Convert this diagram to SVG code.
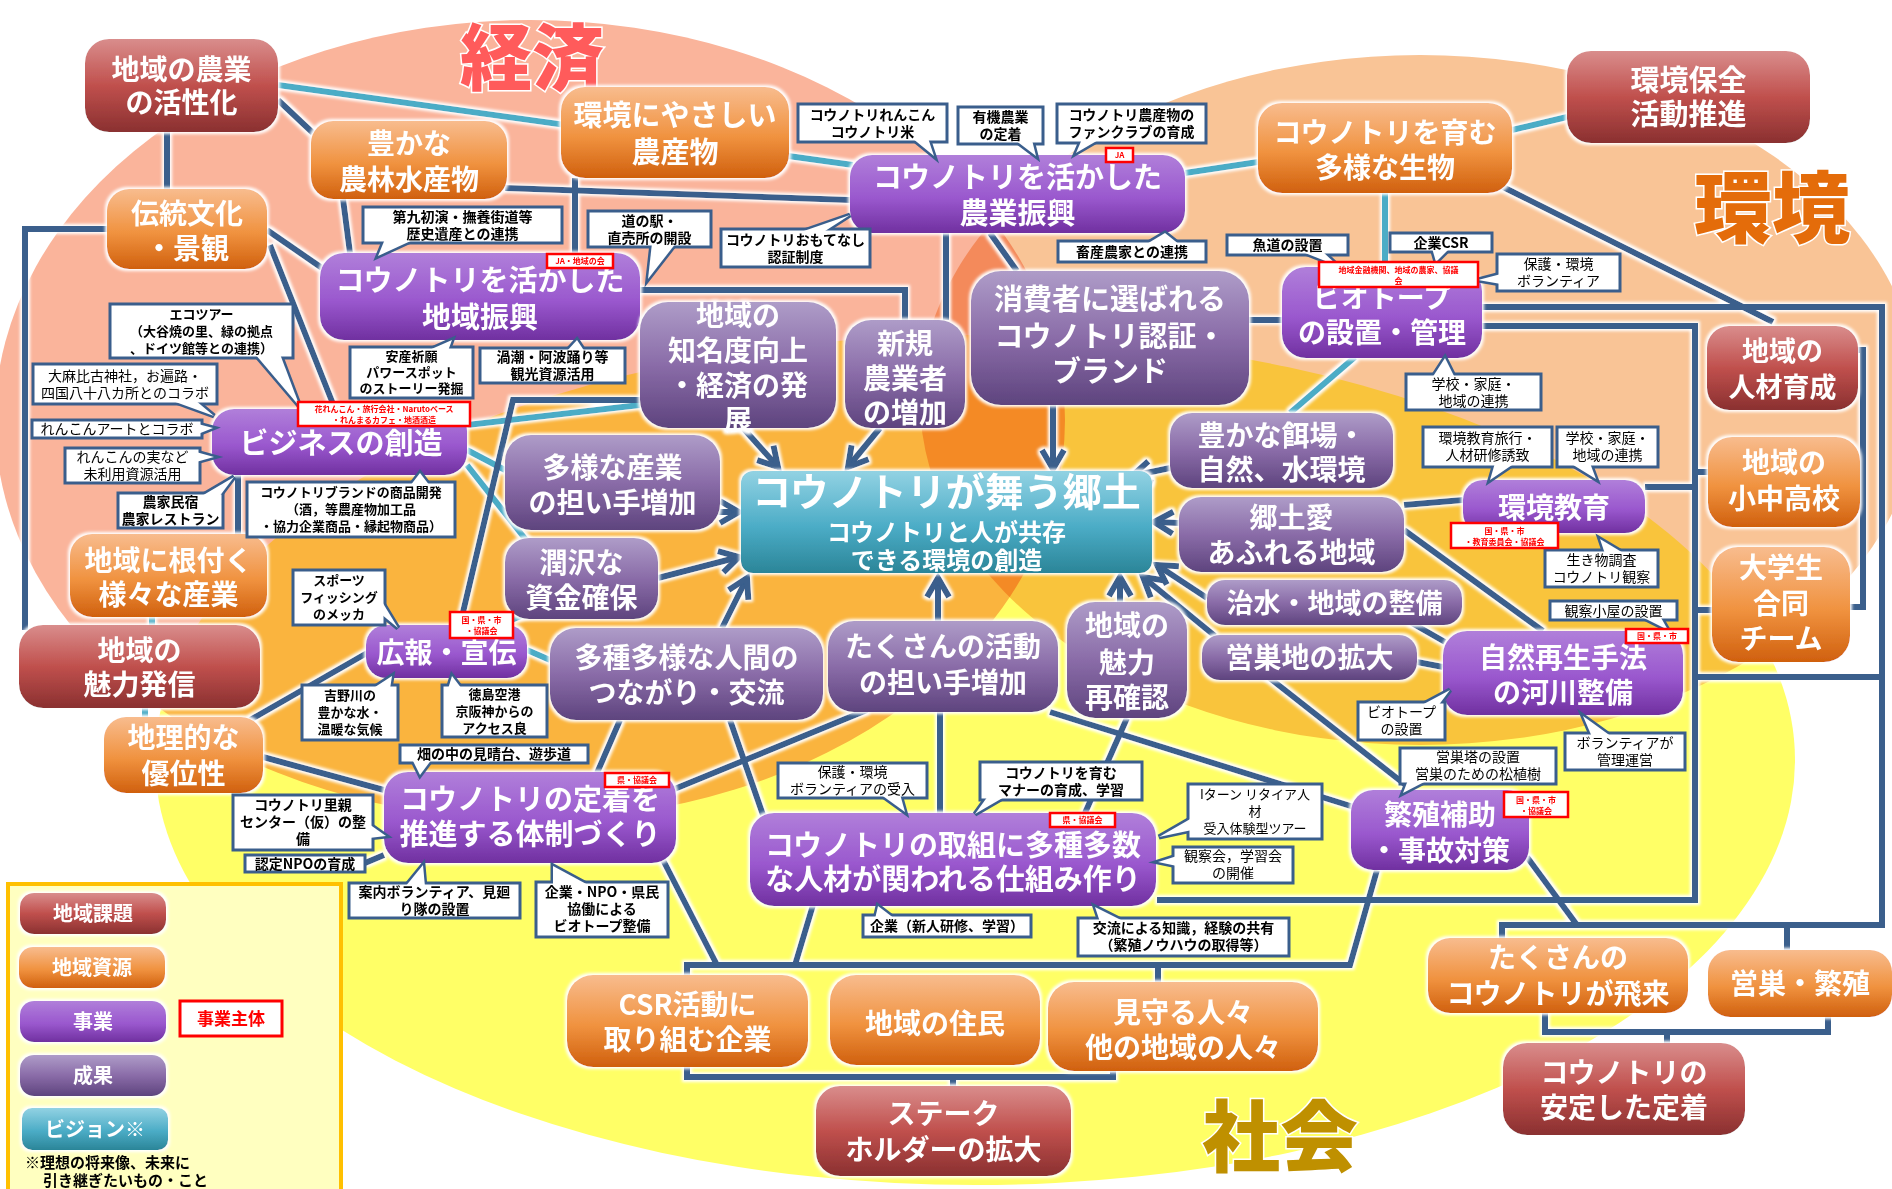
<svg xmlns="http://www.w3.org/2000/svg" width="1892" height="1189" viewBox="0 0 1892 1189">
<defs>
<linearGradient id="gM" x1="0" y1="0" x2="0" y2="1"><stop offset="0" stop-color="#D98D8C"/><stop offset="0.5" stop-color="#C0504D"/><stop offset="1" stop-color="#8A3030"/></linearGradient>
<linearGradient id="gO" x1="0" y1="0" x2="0" y2="1"><stop offset="0" stop-color="#F8BC8E"/><stop offset="0.55" stop-color="#F0923F"/><stop offset="1" stop-color="#D0600E"/></linearGradient>
<linearGradient id="gP" x1="0" y1="0" x2="0" y2="1"><stop offset="0" stop-color="#B07FDA"/><stop offset="0.55" stop-color="#9A58CE"/><stop offset="1" stop-color="#7030A0"/></linearGradient>
<linearGradient id="gR" x1="0" y1="0" x2="0" y2="1"><stop offset="0" stop-color="#AE9CC8"/><stop offset="0.5" stop-color="#8A6CA8"/><stop offset="1" stop-color="#5E447E"/></linearGradient>
<linearGradient id="gV" x1="0" y1="0" x2="0" y2="1"><stop offset="0" stop-color="#92D2E3"/><stop offset="0.55" stop-color="#4BACC6"/><stop offset="1" stop-color="#2B8598"/></linearGradient>
<filter id="glow" x="-20%" y="-20%" width="140%" height="140%">
<feMorphology in="SourceAlpha" operator="dilate" radius="2" result="d"/>
<feGaussianBlur in="d" stdDeviation="1.5" result="b"/>
<feFlood flood-color="#ffffff"/>
<feComposite in2="b" operator="in" result="w"/>
<feMerge><feMergeNode in="w"/><feMergeNode in="SourceGraphic"/></feMerge>
</filter>
<marker id="arr" markerUnits="userSpaceOnUse" markerWidth="30" markerHeight="30" viewBox="0 0 30 30" refX="24" refY="15" orient="auto">
<path d="M5,4 L24,15 L5,26" fill="none" stroke="#3A5E8C" stroke-width="6"/>
</marker>
<style>
.ln{fill:none;stroke:#3A5E8C;stroke-width:6}
.tl{fill:none;stroke:#4BACC6;stroke-width:6}
.ar{marker-end:url(#arr)}
.node{filter:url(#glow)}
.nt{font-family:"Noto Sans CJK JP","Noto Sans",sans-serif;font-weight:700;fill:#ffffff;text-anchor:middle}
.tb{fill:#ffffff;stroke:#3A5E8C;stroke-width:5;stroke-linejoin:miter}
.cb{fill:#ffffff;stroke:#3A5E8C;stroke-width:3}
.cf{fill:#ffffff;stroke:none}
.ct{font-family:"Noto Sans CJK JP","Noto Sans",sans-serif;font-weight:700;font-size:14px;fill:#000000;text-anchor:middle}
.cr{font-weight:400}
.s13{font-size:13px}
.rb{fill:#ffffff;stroke:#FF0000;stroke-width:2.5}
.rt{font-family:"Noto Sans CJK JP","Noto Sans",sans-serif;font-weight:700;font-size:8px;fill:#FF0000;text-anchor:middle}
.ttl{font-family:"Noto Sans CJK JP","Noto Sans",sans-serif;font-weight:900;text-anchor:middle;stroke:#ffffff;stroke-width:3;paint-order:stroke}
</style>
</defs>
<rect x="0" y="0" width="1892" height="1189" fill="#ffffff"/>
<g id="background">
<ellipse cx="530" cy="420" rx="535" ry="400" fill="#FAB49B" style="mix-blend-mode:multiply"/>
<ellipse cx="1420" cy="400" rx="500" ry="345" fill="#F9C496" style="mix-blend-mode:multiply"/>
<ellipse cx="975" cy="760" rx="820" ry="425" fill="#FFFF66" style="mix-blend-mode:multiply"/>
</g>
<g id="titles">
<text class="ttl" x="532" y="84" font-size="72" fill="#FF5B5B">経済</text>
<text class="ttl" x="1772" y="237" font-size="78" fill="#E46C0A">環境</text>
<text class="ttl" x="1280" y="1166" font-size="78" fill="#BF9000">社会</text>
</g>
<g id="connectors" filter="url(#glow)">
<path class="tl" d="M278,85 L853,165"/>
<path class="tl" d="M1185,173 L1258,162"/>
<path class="tl" d="M1512,130 L1567,117"/>
<path class="tl" d="M1385,193 L1385,267"/>
<path class="tl" d="M1355,357 L1290,413"/>
<path class="tl" d="M467,425 L640,405"/>
<path class="tl" d="M467,450 L505,470"/>
<path class="tl" d="M467,465 L530,545"/>
<path class="tl" d="M527,650 L550,660"/>
<path class="tl" d="M500,625 L530,612"/>
<path class="tl" d="M152,617 L152,625"/>
<path class="tl" d="M145,708 L145,717"/>
<path class="ln" d="M167,132 L167,189"/>
<path class="ln" d="M278,100 L313,133"/>
<path class="ln" d="M343,199 L350,253"/>
<path class="ln" d="M505,188 L850,200"/>
<path class="ln" d="M575,178 L575,253"/>
<path class="ln" d="M267,230 L322,268"/>
<path class="ln" d="M270,245 L335,409"/>
<path class="ln" d="M107,229 L25,229 L25,630"/>
<path class="ln" d="M640,290 L905,290 L905,320"/>
<path class="ln" d="M946,233 L946,320"/>
<path class="ln" d="M990,233 L1017,271"/>
<path class="ln" d="M1248,320 L1282,320"/>
<path class="ln ar" d="M1053,405 L1053,469"/>
<path class="ln ar" d="M743,428 L778,467"/>
<path class="ln ar" d="M880,428 L848,467"/>
<path class="ln ar" d="M712,512 L739,512"/>
<path class="ln ar" d="M658,578 L739,557"/>
<path class="ln ar" d="M722,628 L747,578"/>
<path class="ln ar" d="M938,621 L938,578"/>
<path class="ln ar" d="M1120,602 L1120,577"/>
<path class="ln ar" d="M1207,598 L1157,565"/>
<path class="ln ar" d="M1215,636 L1143,577"/>
<path class="ln ar" d="M1179,523 L1154,522"/>
<path class="ln ar" d="M1170,468 L1132,476"/>
<path class="ln" d="M1503,187 L1773,322"/>
<path class="ln" d="M1482,307 L1882,307 L1882,925 L1502,925 L1502,938"/>
<path class="ln" d="M1787,925 L1787,950"/>
<path class="ln" d="M1482,326 L1695,326 L1695,900 L1157,900"/>
<path class="ln" d="M1645,487 L1695,487"/>
<path class="ln" d="M1695,472 L1708,472"/>
<path class="ln" d="M1695,610 L1712,610"/>
<path class="ln" d="M1695,677 L1882,677"/>
<path class="ln" d="M1858,350 L1863,350 L1863,607 L1850,607"/>
<path class="ln" d="M1527,857 L1577,925"/>
<path class="ln" d="M1545,1013 L1545,1032 L1828,1032 L1828,1017"/>
<path class="ln" d="M1667,1032 L1667,1043"/>
<path class="ln" d="M1267,676 L1412,790"/>
<path class="ln" d="M1404,530 L1543,631"/>
<path class="ln" d="M1404,505 L1463,500"/>
<path class="ln" d="M1410,622 L1445,642"/>
<path class="ln" d="M1417,662 L1443,667"/>
<path class="ln" d="M1050,712 L1357,808"/>
<path class="ln" d="M730,720 L763,815"/>
<path class="ln" d="M620,720 L597,773"/>
<path class="ln" d="M940,712 L940,813"/>
<path class="ln" d="M867,710 L672,790"/>
<path class="ln" d="M1127,718 L1085,813"/>
<path class="ln" d="M1377,870 L1350,965 L687,965 L687,1077 L1113,1077 L1113,1071"/>
<path class="ln" d="M1158,965 L1158,982"/>
<path class="ln" d="M953,1077 L953,1086"/>
<path class="ln" d="M663,860 L717,965"/>
<path class="ln" d="M813,905 L795,965"/>
<path class="ln" d="M250,720 L367,653"/>
<path class="ln" d="M263,757 L384,790"/>
<path class="ln" d="M460,625 L513,400 L640,400"/>
<path class="ln" d="M238,475 L238,534"/>
<path class="ln" d="M365,863 L384,855"/>
</g>
<g id="nodes">
<g id="n-nogyo-kasseika" class="node"><rect x="85" y="39" width="193" height="93" rx="24" fill="url(#gM)"/><text class="nt" font-size="28"><tspan x="181.5" y="80">地域の農業</tspan><tspan x="181.5" y="113">の活性化</tspan></text></g>
<g id="n-kankyo-hozen" class="node"><rect x="1567" y="51" width="243" height="92" rx="24" fill="url(#gM)"/><text class="nt" font-size="29"><tspan x="1688.5" y="91">環境保全</tspan><tspan x="1688.5" y="125">活動推進</tspan></text></g>
<g id="n-jinzai" class="node"><rect x="1707" y="326" width="151" height="84" rx="22" fill="url(#gM)"/><text class="nt" font-size="27"><tspan x="1782.5" y="361">地域の</tspan><tspan x="1782.5" y="397">人材育成</tspan></text></g>
<g id="n-miryoku-hasshin" class="node"><rect x="19" y="625" width="241" height="83" rx="24" fill="url(#gM)"/><text class="nt" font-size="28"><tspan x="139.5" y="661">地域の</tspan><tspan x="139.5" y="695">魅力発信</tspan></text></g>
<g id="n-stakeholder" class="node"><rect x="816" y="1086" width="255" height="90" rx="24" fill="url(#gM)"/><text class="nt" font-size="28"><tspan x="943.5" y="1124">ステーク</tspan><tspan x="943.5" y="1160">ホルダーの拡大</tspan></text></g>
<g id="n-antei" class="node"><rect x="1503" y="1043" width="242" height="92" rx="24" fill="url(#gM)"/><text class="nt" font-size="28"><tspan x="1624" y="1083">コウノトリの</tspan><tspan x="1624" y="1118">安定した定着</tspan></text></g>

<g id="n-yutaka" class="node"><rect x="311" y="121" width="196" height="78" rx="22" fill="url(#gO)"/><text class="nt" font-size="28"><tspan x="409" y="154">豊かな</tspan><tspan x="409" y="190">農林水産物</tspan></text></g>
<g id="n-dento" class="node"><rect x="107" y="189" width="160" height="80" rx="22" fill="url(#gO)"/><text class="nt" font-size="28"><tspan x="187" y="224">伝統文化</tspan><tspan x="187" y="259">・景観</tspan></text></g>
<g id="n-yasashii" class="node"><rect x="561" y="87" width="228" height="91" rx="24" fill="url(#gO)"/><text class="nt" font-size="29"><tspan x="675" y="126">環境にやさしい</tspan><tspan x="675" y="163">農産物</tspan></text></g>
<g id="n-seibutsu" class="node"><rect x="1258" y="103" width="254" height="90" rx="24" fill="url(#gO)"/><text class="nt" font-size="28"><tspan x="1385" y="143">コウノトリを育む</tspan><tspan x="1385" y="178">多様な生物</tspan></text></g>
<g id="n-nezuku" class="node"><rect x="70" y="534" width="197" height="83" rx="22" fill="url(#gO)"/><text class="nt" font-size="28"><tspan x="168.5" y="571">地域に根付く</tspan><tspan x="168.5" y="605">様々な産業</tspan></text></g>
<g id="n-chiri" class="node"><rect x="104" y="717" width="159" height="76" rx="22" fill="url(#gO)"/><text class="nt" font-size="28"><tspan x="183.5" y="748">地理的な</tspan><tspan x="183.5" y="784">優位性</tspan></text></g>
<g id="n-shochuko" class="node"><rect x="1708" y="437" width="152" height="90" rx="24" fill="url(#gO)"/><text class="nt" font-size="28"><tspan x="1784" y="473">地域の</tspan><tspan x="1784" y="509">小中高校</tspan></text></g>
<g id="n-daigakusei" class="node"><rect x="1712" y="547" width="138" height="115" rx="26" fill="url(#gO)"/><text class="nt" font-size="28"><tspan x="1781" y="578">大学生</tspan><tspan x="1781" y="614">合同</tspan><tspan x="1781" y="649">チーム</tspan></text></g>
<g id="n-csr" class="node"><rect x="567" y="975" width="241" height="92" rx="26" fill="url(#gO)"/><text class="nt" font-size="28"><tspan x="687.5" y="1015">CSR活動に</tspan><tspan x="687.5" y="1050">取り組む企業</tspan></text></g>
<g id="n-jumin" class="node"><rect x="830" y="975" width="210" height="90" rx="26" fill="url(#gO)"/><text class="nt" font-size="28"><tspan x="935" y="1034">地域の住民</tspan></text></g>
<g id="n-mimamoru" class="node"><rect x="1048" y="982" width="270" height="89" rx="26" fill="url(#gO)"/><text class="nt" font-size="28"><tspan x="1183" y="1023">見守る人々</tspan><tspan x="1183" y="1058">他の地域の人々</tspan></text></g>
<g id="n-hirai" class="node"><rect x="1428" y="938" width="260" height="75" rx="22" fill="url(#gO)"/><text class="nt" font-size="28"><tspan x="1558" y="968">たくさんの</tspan><tspan x="1558" y="1004">コウノトリが飛来</tspan></text></g>
<g id="n-eiso-hanshoku" class="node"><rect x="1708" y="950" width="184" height="67" rx="22" fill="url(#gO)"/><text class="nt" font-size="28"><tspan x="1800" y="994">営巣・繁殖</tspan></text></g>

<g id="n-chiiki-shinko" class="node"><rect x="320" y="253" width="320" height="87" rx="24" fill="url(#gP)"/><text class="nt" font-size="29"><tspan x="480" y="291">コウノトリを活かした</tspan><tspan x="480" y="328">地域振興</tspan></text></g>
<g id="n-nogyo-shinko" class="node"><rect x="850" y="155" width="335" height="78" rx="22" fill="url(#gP)"/><text class="nt" font-size="29"><tspan x="1017.5" y="188">コウノトリを活かした</tspan><tspan x="1017.5" y="224">農業振興</tspan></text></g>
<g id="n-biotope" class="node"><rect x="1282" y="267" width="200" height="91" rx="24" fill="url(#gP)"/><text class="nt" font-size="28"><tspan x="1382" y="308">ビオトープ</tspan><tspan x="1382" y="343">の設置・管理</tspan></text></g>
<g id="n-business" class="node"><rect x="212" y="409" width="255" height="66" rx="22" fill="url(#gP)"/><text class="nt" font-size="29"><tspan x="341" y="454">ビジネスの創造</tspan></text></g>
<g id="n-kankyo-kyoiku" class="node"><rect x="1463" y="480" width="182" height="53" rx="20" fill="url(#gP)"/><text class="nt" font-size="28"><tspan x="1554" y="518">環境教育</tspan></text></g>
<g id="n-shizen-saisei" class="node"><rect x="1443" y="631" width="240" height="84" rx="24" fill="url(#gP)"/><text class="nt" font-size="28"><tspan x="1563" y="668">自然再生手法</tspan><tspan x="1563" y="703">の河川整備</tspan></text></g>
<g id="n-koho" class="node"><rect x="366" y="625" width="161" height="53" rx="20" fill="url(#gP)"/><text class="nt" font-size="28"><tspan x="446.5" y="663">広報・宣伝</tspan></text></g>
<g id="n-taisei" class="node"><rect x="384" y="772" width="292" height="91" rx="24" fill="url(#gP)"/><text class="nt" font-size="29"><tspan x="530" y="810">コウノトリの定着を</tspan><tspan x="530" y="845">推進する体制づくり</tspan></text></g>
<g id="n-shikumi" class="node"><rect x="750" y="813" width="406" height="93" rx="24" fill="url(#gP)"/><text class="nt" font-size="29"><tspan x="953" y="856">コウノトリの取組に多種多数</tspan><tspan x="953" y="890">な人材が関われる仕組み作り</tspan></text></g>
<g id="n-hanshoku-hojo" class="node"><rect x="1351" y="790" width="178" height="80" rx="22" fill="url(#gP)"/><text class="nt" font-size="28"><tspan x="1440" y="825">繁殖補助</tspan><tspan x="1440" y="861">・事故対策</tspan></text></g>

<g id="n-chimeido" class="node"><rect x="640" y="302" width="196" height="126" rx="28" fill="url(#gR)"/><text class="nt" font-size="28"><tspan x="738" y="326">地域の</tspan><tspan x="738" y="361">知名度向上</tspan><tspan x="738" y="396">・経済の発</tspan><tspan x="738" y="430">展</tspan></text></g>
<g id="n-shinki" class="node"><rect x="845" y="320" width="120" height="108" rx="26" fill="url(#gR)"/><text class="nt" font-size="28"><tspan x="905" y="354">新規</tspan><tspan x="905" y="389">農業者</tspan><tspan x="905" y="423">の増加</tspan></text></g>
<g id="n-shohisha" class="node"><rect x="971" y="271" width="278" height="134" rx="30" fill="url(#gR)"/><text class="nt" font-size="29"><tspan x="1110" y="310">消費者に選ばれる</tspan><tspan x="1110" y="347">コウノトリ認証・</tspan><tspan x="1110" y="382">ブランド</tspan></text></g>
<g id="n-tayo-sangyo" class="node"><rect x="505" y="435" width="215" height="95" rx="26" fill="url(#gR)"/><text class="nt" font-size="28"><tspan x="612.5" y="478">多様な産業</tspan><tspan x="612.5" y="513">の担い手増加</tspan></text></g>
<g id="n-juntaku" class="node"><rect x="505" y="538" width="153" height="81" rx="24" fill="url(#gR)"/><text class="nt" font-size="28"><tspan x="581.5" y="573">潤沢な</tspan><tspan x="581.5" y="608">資金確保</tspan></text></g>
<g id="n-tsunagari" class="node"><rect x="550" y="628" width="273" height="92" rx="26" fill="url(#gR)"/><text class="nt" font-size="28"><tspan x="686.5" y="668">多種多様な人間の</tspan><tspan x="686.5" y="703">つながり・交流</tspan></text></g>
<g id="n-katsudo" class="node"><rect x="828" y="621" width="230" height="91" rx="26" fill="url(#gR)"/><text class="nt" font-size="28"><tspan x="943" y="657">たくさんの活動</tspan><tspan x="943" y="693">の担い手増加</tspan></text></g>
<g id="n-saikakunin" class="node"><rect x="1067" y="602" width="120" height="116" rx="28" fill="url(#gR)"/><text class="nt" font-size="28"><tspan x="1127" y="636">地域の</tspan><tspan x="1127" y="673">魅力</tspan><tspan x="1127" y="708">再確認</tspan></text></g>
<g id="n-esaba" class="node"><rect x="1170" y="413" width="223" height="75" rx="22" fill="url(#gR)"/><text class="nt" font-size="28"><tspan x="1281.5" y="446">豊かな餌場・</tspan><tspan x="1281.5" y="480">自然、水環境</tspan></text></g>
<g id="n-kyodoai" class="node"><rect x="1179" y="497" width="225" height="75" rx="22" fill="url(#gR)"/><text class="nt" font-size="28"><tspan x="1291.5" y="528">郷土愛</tspan><tspan x="1291.5" y="563">あふれる地域</tspan></text></g>
<g id="n-chisui" class="node"><rect x="1207" y="580" width="255" height="45" rx="18" fill="url(#gR)"/><text class="nt" font-size="27"><tspan x="1334.5" y="613">治水・地域の整備</tspan></text></g>
<g id="n-eisochi" class="node"><rect x="1202" y="635" width="215" height="45" rx="18" fill="url(#gR)"/><text class="nt" font-size="28"><tspan x="1309.5" y="668">営巣地の拡大</tspan></text></g>

<g id="n-vision" class="node"><rect x="741" y="471" width="411" height="102" rx="12" fill="url(#gV)"/><text class="nt" font-size="39" font-weight="400"><tspan x="946.5" y="506">コウノトリが舞う郷土</tspan></text><text class="nt" font-size="24" font-weight="400"><tspan x="946.5" y="541">コウノトリと人が共存</tspan><tspan x="946.5" y="569">できる環境の創造</tspan></text></g>
</g>
<g id="callouts">
<g id="c-renkon"><polygon class="tb" points="912,138 934,156 928,138"/><rect class="cb" x="798" y="104" width="149" height="38"/><polygon class="cf" points="912,138 934,156 928,138"/><text class="ct"><tspan x="872.5" y="120">コウノトリれんこん</tspan><tspan x="872.5" y="137">コウノトリ米</tspan></text></g>
<g id="c-yuki"><polygon class="tb" points="1015,140 1036,156 1032,140"/><rect class="cb" x="958" y="107" width="85" height="37"/><polygon class="cf" points="1015,140 1036,156 1032,140"/><text class="ct"><tspan x="1000.5" y="122">有機農業</tspan><tspan x="1000.5" y="139">の定着</tspan></text></g>
<g id="c-fanclub"><polygon class="tb" points="1082,139 1076,153 1100,139"/><rect class="cb" x="1057" y="104" width="149" height="39"/><polygon class="cf" points="1082,139 1076,153 1100,139"/><text class="ct"><tspan x="1131.5" y="120">コウノトリ農産物の</tspan><tspan x="1131.5" y="137">ファンクラブの育成</tspan></text></g>
<g id="c-michinoeki"><polygon class="tb" points="652,243 648,279 676,243"/><rect class="cb" x="588" y="211" width="123" height="36"/><polygon class="cf" points="652,243 648,279 676,243"/><text class="ct"><tspan x="649.5" y="226">道の駅・</tspan><tspan x="649.5" y="243">直売所の開設</tspan></text></g>
<g id="c-omotenashi"><polygon class="tb" points="798,233 850,215 822,233"/><rect class="cb" x="721" y="229" width="149" height="38"/><polygon class="cf" points="798,233 850,215 822,233"/><text class="ct"><tspan x="795.5" y="245">コウノトリおもてなし</tspan><tspan x="795.5" y="262">認証制度</tspan></text></g>
<g id="c-daiku"><polygon class="tb" points="385,239 378,256 415,239"/><rect class="cb" x="363" y="207" width="199" height="36"/><polygon class="cf" points="385,239 378,256 415,239"/><text class="ct"><tspan x="462.5" y="222">第九初演・撫養街道等</tspan><tspan x="462.5" y="239">歴史遺産との連携</tspan></text></g>
<g id="c-chikusan"><polygon class="tb" points="1145,245 1165,233 1180,245"/><rect class="cb" x="1058" y="241" width="148" height="21"/><polygon class="cf" points="1145,245 1165,233 1180,245"/><text class="ct"><tspan x="1132" y="257">畜産農家との連携</tspan></text></g>
<g id="c-gyodo"><polygon class="tb" points="1300,251 1338,266 1322,251"/><rect class="cb" x="1227" y="235" width="121" height="20"/><polygon class="cf" points="1300,251 1338,266 1322,251"/><text class="ct"><tspan x="1287.5" y="250">魚道の設置</tspan></text></g>
<g id="c-csr"><polygon class="tb" points="1432,248 1436,262 1450,248"/><rect class="cb" x="1390" y="233" width="102" height="19"/><polygon class="cf" points="1432,248 1436,262 1450,248"/><text class="ct"><tspan x="1441" y="248">企業CSR</tspan></text></g>
<g id="c-hogo1"><polygon class="tb" points="1501,274 1478,280 1501,284"/><rect class="cb" x="1497" y="254" width="123" height="37"/><polygon class="cf" points="1501,274 1478,280 1501,284"/><text class="ct cr"><tspan x="1558.5" y="269">保護・環境</tspan><tspan x="1558.5" y="286">ボランティア</tspan></text></g>
<g id="c-gakko1"><polygon class="tb" points="1432,378 1445,358 1455,378"/><rect class="cb" x="1406" y="374" width="135" height="36"/><polygon class="cf" points="1432,378 1445,358 1455,378"/><text class="ct cr"><tspan x="1473.5" y="389">学校・家庭・</tspan><tspan x="1473.5" y="406">地域の連携</tspan></text></g>
<g id="c-ecotour"><polygon class="tb" points="255,354 300,407 280,354"/><rect class="cb" x="110" y="304" width="183" height="54"/><polygon class="cf" points="255,354 300,407 280,354"/><text class="ct s13"><tspan x="201.5" y="319">エコツアー</tspan><tspan x="201.5" y="336">（大谷焼の里、緑の拠点</tspan><tspan x="201.5" y="353">、ドイツ館等との連携）</tspan></text></g>
<g id="c-oasahiko"><polygon class="tb" points="170,400 214,416 195,400"/><rect class="cb" x="33" y="364" width="184" height="40"/><polygon class="cf" points="170,400 214,416 195,400"/><text class="ct cr"><tspan x="125" y="381">大麻比古神社，お遍路・</tspan><tspan x="125" y="398">四国八十八カ所とのコラボ</tspan></text></g>
<g id="c-anzan"><polygon class="tb" points="427,351 452,340 448,351"/><rect class="cb" x="350" y="347" width="123" height="51"/><polygon class="cf" points="427,351 452,340 448,351"/><text class="ct s13"><tspan x="411.5" y="361">安産祈願</tspan><tspan x="411.5" y="377">パワースポット</tspan><tspan x="411.5" y="393">のストーリー発掘</tspan></text></g>
<g id="c-uzushio"><polygon class="tb" points="566,352 577,340 585,352"/><rect class="cb" x="480" y="348" width="145" height="35"/><polygon class="cf" points="566,352 577,340 585,352"/><text class="ct"><tspan x="552.5" y="362">渦潮・阿波踊り等</tspan><tspan x="552.5" y="379">観光資源活用</tspan></text></g>
<g id="c-renkonart"><polygon class="tb" points="198,424 213,428 198,434"/><rect class="cb" x="32" y="420" width="170" height="18"/><polygon class="cf" points="198,424 213,428 198,434"/><text class="ct cr"><tspan x="117" y="434">れんこんアートとコラボ</tspan></text></g>
<g id="c-renkonmi"><polygon class="tb" points="196,452 214,457 196,462"/><rect class="cb" x="65" y="448" width="135" height="35"/><polygon class="cf" points="196,452 214,457 196,462"/><text class="ct cr"><tspan x="132.5" y="462">れんこんの実など</tspan><tspan x="132.5" y="479">未利用資源活用</tspan></text></g>
<g id="c-minshuku"><polygon class="tb" points="200,497 234,477 219,497"/><rect class="cb" x="118" y="493" width="105" height="35"/><polygon class="cf" points="200,497 234,477 219,497"/><text class="ct"><tspan x="170.5" y="507">農家民宿</tspan><tspan x="170.5" y="524">農家レストラン</tspan></text></g>
<g id="c-brand"><polygon class="tb" points="410,486 420,473 430,486"/><rect class="cb" x="247" y="482" width="208" height="55"/><polygon class="cf" points="410,486 420,473 430,486"/><text class="ct s13"><tspan x="351" y="497">コウノトリブランドの商品開発</tspan><tspan x="351" y="514">（酒，等農産物加工品</tspan><tspan x="351" y="531">・協力企業商品・縁起物商品）</tspan></text></g>
<g id="c-sports"><polygon class="tb" points="381,600 398,628 381,614"/><rect class="cb" x="293" y="570" width="92" height="55"/><polygon class="cf" points="381,600 398,628 381,614"/><text class="ct s13"><tspan x="339" y="585">スポーツ</tspan><tspan x="339" y="602">フィッシング</tspan><tspan x="339" y="619">のメッカ</tspan></text></g>
<g id="c-yoshino"><polygon class="tb" points="372,689 392,676 390,689"/><rect class="cb" x="302" y="685" width="96" height="55"/><polygon class="cf" points="372,689 392,676 390,689"/><text class="ct s13"><tspan x="350" y="700">吉野川の</tspan><tspan x="350" y="717">豊かな水・</tspan><tspan x="350" y="734">温暖な気候</tspan></text></g>
<g id="c-kuko"><polygon class="tb" points="448,689 452,676 462,689"/><rect class="cb" x="442" y="685" width="105" height="52"/><polygon class="cf" points="448,689 452,676 462,689"/><text class="ct s13"><tspan x="494.5" y="699">徳島空港</tspan><tspan x="494.5" y="716">京阪神からの</tspan><tspan x="494.5" y="733">アクセス良</tspan></text></g>
<g id="c-miharashi"><polygon class="tb" points="412,759 420,775 432,759"/><rect class="cb" x="400" y="745" width="188" height="18"/><polygon class="cf" points="412,759 420,775 432,759"/><text class="ct"><tspan x="494" y="759">畑の中の見晴台、遊歩道</tspan></text></g>
<g id="c-satooya"><polygon class="tb" points="369,824 386,836 369,838"/><rect class="cb" x="233" y="795" width="140" height="55"/><polygon class="cf" points="369,824 386,836 369,838"/><text class="ct"><tspan x="303" y="810">コウノトリ里親</tspan><tspan x="303" y="827">センター（仮）の整</tspan><tspan x="303" y="844">備</tspan></text></g>
<g id="c-npo"><rect class="cb" x="245" y="855" width="120" height="17"/><text class="ct"><tspan x="305" y="869">認定NPOの育成</tspan></text></g>
<g id="c-annai"><polygon class="tb" points="405,887 423,865 425,887"/><rect class="cb" x="349" y="883" width="171" height="35"/><polygon class="cf" points="405,887 423,865 425,887"/><text class="ct"><tspan x="434.5" y="897">案内ボランティア、見廻</tspan><tspan x="434.5" y="914">り隊の設置</tspan></text></g>
<g id="c-kyodo"><polygon class="tb" points="553,886 553,866 590,886"/><rect class="cb" x="536" y="882" width="132" height="55"/><polygon class="cf" points="553,886 553,866 590,886"/><text class="ct"><tspan x="602" y="897">企業・NPO・県民</tspan><tspan x="602" y="914">協働による</tspan><tspan x="602" y="931">ビオトープ整備</tspan></text></g>
<g id="c-hogo2"><polygon class="tb" points="880,794 905,812 900,794"/><rect class="cb" x="778" y="763" width="149" height="35"/><polygon class="cf" points="880,794 905,812 900,794"/><text class="ct cr"><tspan x="852.5" y="777">保護・環境</tspan><tspan x="852.5" y="794">ボランティアの受入</tspan></text></g>
<g id="c-manner"><polygon class="tb" points="988,796 975,814 1006,796"/><rect class="cb" x="980" y="762" width="162" height="38"/><polygon class="cf" points="988,796 975,814 1006,796"/><text class="ct"><tspan x="1061" y="778">コウノトリを育む</tspan><tspan x="1061" y="795">マナーの育成、学習</tspan></text></g>
<g id="c-iturn"><polygon class="tb" points="1192,818 1159,837 1192,830"/><rect class="cb" x="1188" y="784" width="134" height="55"/><polygon class="cf" points="1192,818 1159,837 1192,830"/><text class="ct cr s13"><tspan x="1255" y="799">Iターン リタイア人</tspan><tspan x="1255" y="816">材</tspan><tspan x="1255" y="833">受入体験型ツアー</tspan></text></g>
<g id="c-kansatsukai"><polygon class="tb" points="1177,856 1158,862 1177,866"/><rect class="cb" x="1173" y="847" width="120" height="36"/><polygon class="cf" points="1177,856 1158,862 1177,866"/><text class="ct cr"><tspan x="1233" y="861">観察会，学習会</tspan><tspan x="1233" y="878">の開催</tspan></text></g>
<g id="c-kenshu"><polygon class="tb" points="875,919 878,906 895,919"/><rect class="cb" x="863" y="915" width="168" height="22"/><polygon class="cf" points="875,919 878,906 895,919"/><text class="ct"><tspan x="947" y="931">企業（新人研修、学習）</tspan></text></g>
<g id="c-koryu"><polygon class="tb" points="1100,922 1095,907 1125,922"/><rect class="cb" x="1078" y="918" width="211" height="38"/><polygon class="cf" points="1100,922 1095,907 1125,922"/><text class="ct"><tspan x="1183.5" y="933">交流による知識，経験の共有</tspan><tspan x="1183.5" y="950">（繁殖ノウハウの取得等）</tspan></text></g>
<g id="c-ryoko"><polygon class="tb" points="1495,463 1490,480 1515,463"/><rect class="cb" x="1423" y="427" width="129" height="40"/><polygon class="cf" points="1495,463 1490,480 1515,463"/><text class="ct cr"><tspan x="1487.5" y="443">環境教育旅行・</tspan><tspan x="1487.5" y="460">人材研修誘致</tspan></text></g>
<g id="c-gakko2"><polygon class="tb" points="1570,463 1596,479 1590,463"/><rect class="cb" x="1557" y="427" width="101" height="40"/><polygon class="cf" points="1570,463 1596,479 1590,463"/><text class="ct cr"><tspan x="1607.5" y="443">学校・家庭・</tspan><tspan x="1607.5" y="460">地域の連携</tspan></text></g>
<g id="c-ikimono"><polygon class="tb" points="1605,554 1600,539 1625,554"/><rect class="cb" x="1545" y="550" width="113" height="37"/><polygon class="cf" points="1605,554 1600,539 1625,554"/><text class="ct cr"><tspan x="1601.5" y="565">生き物調査</tspan><tspan x="1601.5" y="582">コウノトリ観察</tspan></text></g>
<g id="c-koya"><polygon class="tb" points="1640,616 1668,630 1660,616"/><rect class="cb" x="1550" y="601" width="127" height="19"/><polygon class="cf" points="1640,616 1668,630 1660,616"/><text class="ct cr"><tspan x="1613.5" y="616">観察小屋の設置</tspan></text></g>
<g id="c-biotope2"><polygon class="tb" points="1420,706 1450,690 1438,706"/><rect class="cb" x="1358" y="702" width="87" height="38"/><polygon class="cf" points="1420,706 1450,690 1438,706"/><text class="ct cr"><tspan x="1401.5" y="717">ビオトープ</tspan><tspan x="1401.5" y="734">の設置</tspan></text></g>
<g id="c-kanri"><polygon class="tb" points="1592,737 1583,716 1612,737"/><rect class="cb" x="1565" y="733" width="120" height="37"/><polygon class="cf" points="1592,737 1583,716 1612,737"/><text class="ct cr"><tspan x="1625" y="748">ボランティアが</tspan><tspan x="1625" y="765">管理運営</tspan></text></g>
<g id="c-eisoto"><polygon class="tb" points="1408,780 1403,793 1428,780"/><rect class="cb" x="1400" y="748" width="156" height="36"/><polygon class="cf" points="1408,780 1403,793 1428,780"/><text class="ct cr"><tspan x="1478" y="762">営巣塔の設置</tspan><tspan x="1478" y="779">営巣のための松植樹</tspan></text></g>
</g>
<g id="actors">
<g id="r-chiiki"><rect class="rb" x="547" y="254" width="66" height="14"/><text class="rt"><tspan x="580" y="264">JA・地域の会</tspan></text></g>
<g id="r-nogyo"><rect class="rb" x="1106" y="148" width="27" height="14"/><text class="rt"><tspan x="1119.5" y="158">JA</tspan></text></g>
<g id="r-biotope"><rect class="rb" x="1319" y="262" width="159" height="25"/><text class="rt"><tspan x="1398.5" y="273">地域金融機関、地域の農家、協議</tspan><tspan x="1398.5" y="284">会</tspan></text></g>
<g id="r-business"><rect class="rb" x="298" y="402" width="172" height="24"/><text class="rt"><tspan x="384" y="412">花れんこん・旅行会社・Narutoベース</tspan><tspan x="384" y="423">・れんまるカフェ・地酒酒造</tspan></text></g>
<g id="r-koho"><rect class="rb" x="450" y="612" width="63" height="26"/><text class="rt"><tspan x="481.5" y="623">国・県・市</tspan><tspan x="481.5" y="634">・協議会</tspan></text></g>
<g id="r-taisei"><rect class="rb" x="605" y="773" width="64" height="14"/><text class="rt"><tspan x="637" y="783">県・協議会</tspan></text></g>
<g id="r-kyoiku"><rect class="rb" x="1451" y="523" width="107" height="25"/><text class="rt"><tspan x="1504.5" y="534">国・県・市</tspan><tspan x="1504.5" y="545">・教育委員会・協議会</tspan></text></g>
<g id="r-saisei"><rect class="rb" x="1626" y="629" width="62" height="14"/><text class="rt"><tspan x="1657" y="639">国・県・市</tspan></text></g>
<g id="r-shikumi"><rect class="rb" x="1050" y="813" width="65" height="14"/><text class="rt"><tspan x="1082.5" y="823">県・協議会</tspan></text></g>
<g id="r-hanshoku"><rect class="rb" x="1504" y="792" width="64" height="25"/><text class="rt"><tspan x="1536" y="803">国・県・市</tspan><tspan x="1536" y="814">・協議会</tspan></text></g>
</g>
<g id="legend">
<rect x="8" y="884" width="333" height="312" fill="#FFFFC0" stroke="#FFC000" stroke-width="4"/>
<g class="node"><rect x="20" y="893" width="146" height="41" rx="14" fill="url(#gM)"/><text class="nt" font-size="20" x="93" y="921">地域課題</text></g>
<g class="node"><rect x="19" y="947" width="146" height="41" rx="14" fill="url(#gO)"/><text class="nt" font-size="20" x="92" y="975">地域資源</text></g>
<g class="node"><rect x="20" y="1001" width="146" height="41" rx="14" fill="url(#gP)"/><text class="nt" font-size="20" x="93" y="1029">事業</text></g>
<g class="node"><rect x="20" y="1055" width="146" height="41" rx="14" fill="url(#gR)"/><text class="nt" font-size="20" x="93" y="1083">成果</text></g>
<g class="node"><rect x="22" y="1108" width="146" height="42" rx="10" fill="url(#gV)"/><text class="nt" font-size="20" x="95" y="1137">ビジョン※</text></g>
<rect x="180" y="1001" width="102" height="35" fill="#ffffff" stroke="#FF0000" stroke-width="3"/>
<text x="231" y="1025" font-family="Noto Sans CJK JP, sans-serif" font-weight="700" font-size="17" fill="#FF0000" text-anchor="middle">事業主体</text>
<text font-family="Noto Sans CJK JP, sans-serif" font-weight="700" font-size="15" fill="#000000"><tspan x="25" y="1168">※理想の将来像、未来に</tspan><tspan x="43" y="1186">引き継ぎたいもの・こと</tspan></text>
</g>
</svg>
